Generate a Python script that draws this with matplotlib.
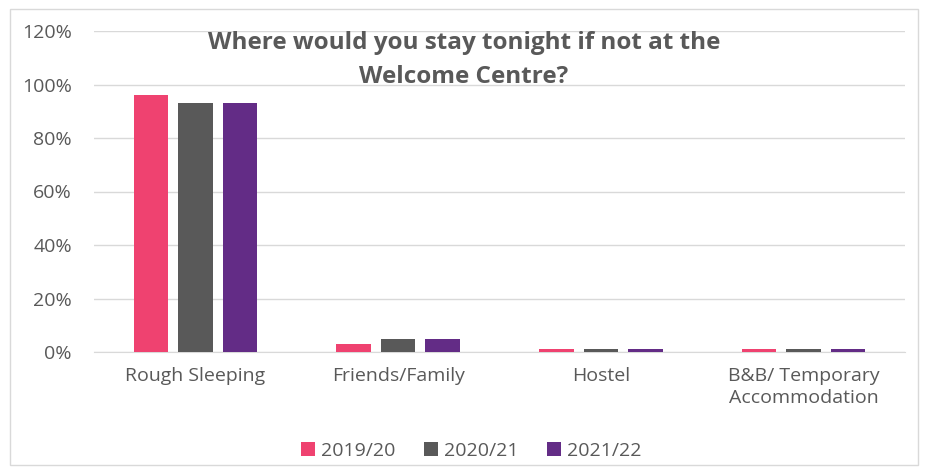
import numpy as np
import matplotlib
matplotlib.use("Agg")
import matplotlib.pyplot as plt
from matplotlib.patches import Rectangle

# donnees
categories = ["Rough Sleeping", "Friends/Family", "Hostel", "B&B/ Temporary\nAccommodation"]
series = ["2019/20", "2020/21", "2021/22"]
v_2019 = [0.96, 0.03, 0.01, 0.01]
v_2020 = [0.93, 0.05, 0.01, 0.01]
v_2021 = [0.93, 0.05, 0.01, 0.01]
yticks = [0, 0.2, 0.4, 0.6, 0.8, 1.0, 1.2]

couleurs = ["#EF4270", "#595959", "#632C86"]
texte = "#595959"
taille = 14

plt.rcParams['font.family'] = ['Open Sans', 'DejaVu Sans']

fig = plt.figure(figsize=(9.29, 4.72), dpi=100)
ax = fig.add_axes([94/929, 1-352/472, 811/929, 321/472])

x = np.arange(len(categories))
largeur = 0.17
ecart = 0.22
for i, (vals, nom) in enumerate(zip([v_2019, v_2020, v_2021], series)):
    ax.bar(x + (i-1)*ecart, vals, largeur, color=couleurs[i], label=nom, zorder=3)

ax.set_xlim(-0.5, len(categories)-0.5)
ax.set_ylim(0, 1.2)
ax.set_yticks(yticks)
ax.set_yticklabels([f"{int(round(t*100))}%" for t in yticks], fontsize=taille, color=texte)
ax.set_xticks(x)
ax.set_xticklabels(categories, fontsize=taille, color=texte, linespacing=1.3)
ax.tick_params(length=0)
ax.tick_params(axis='x', pad=11)
ax.tick_params(axis='y', pad=16)
ax.grid(axis='y', color="#D9D9D9", linewidth=1, zorder=0)
for s in ["top", "right", "left"]:
    ax.spines[s].set_visible(False)
ax.spines["bottom"].set_color("#D9D9D9")

fig.text(464/929, 1-60/472, "Where would you stay tonight if not at the\nWelcome Centre?",
         ha="center", va="center", fontsize=17.5, fontweight="bold", color=texte,
         linespacing=1.55)

ax.legend(loc="upper center", bbox_to_anchor=(0.465, -0.225), ncol=3, frameon=False,
          fontsize=taille, labelcolor=texte, handlelength=0.7, handleheight=0.7,
          handletextpad=0.3, columnspacing=1.5)

fig.patches.append(Rectangle((10/929, 1-465/472), 908/929, 456/472, transform=fig.transFigure,
                             fill=False, edgecolor="#D9D9D9", linewidth=1))

fig.savefig("out.png", dpi=100)
